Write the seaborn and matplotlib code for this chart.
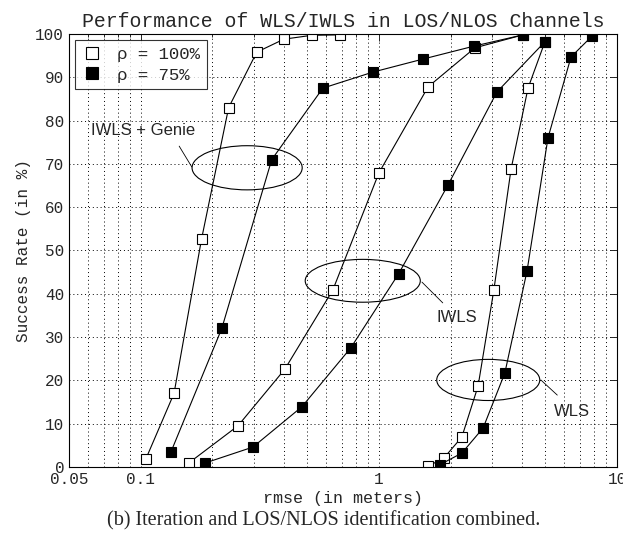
#!/usr/bin/env python3

import numpy as np
import pandas as pd

import matplotlib as mpl
mpl.use('Agg')
import matplotlib.pyplot as plt
from matplotlib.patches import Ellipse
from matplotlib.lines import Line2D
from matplotlib.ticker import LogLocator, FixedLocator, FixedFormatter, NullFormatter
import seaborn as sns

# rmse (m) / success rate (%)
genie_100_x = [0.105, 0.138, 0.180, 0.234, 0.307, 0.399, 0.523, 0.686]
genie_100_y = [1.8, 17, 52.6, 83, 95.8, 98.8, 99.7, 99.8]
genie_75_x = [0.134, 0.219, 0.355, 0.582, 0.944, 1.53, 2.51, 4.03]
genie_75_y = [3.5, 32, 71, 87.5, 91.2, 94.2, 97.2, 99.8]
iwls_100_x = [0.159, 0.256, 0.403, 0.641, 1.0, 1.61, 2.53, 4.03]
iwls_100_y = [0.9, 9.5, 22.6, 40.9, 67.9, 87.8, 96.8, 99.8]
iwls_75_x = [0.186, 0.296, 0.475, 0.762, 1.21, 1.95, 3.13, 4.98]
iwls_75_y = [0.9, 4.6, 13.9, 27.5, 44.6, 65.1, 86.6, 98.2]
wls_100_x = [1.61, 1.87, 2.23, 2.61, 3.04, 3.59, 4.23, 4.98]
wls_100_y = [0.2, 2, 6.9, 18.7, 40.9, 68.8, 87.5, 98.2]
wls_75_x = [1.80, 2.23, 2.74, 3.38, 4.19, 5.13, 6.41, 7.85]
wls_75_y = [0.5, 3.2, 9, 21.7, 45.3, 76, 94.7, 99.5]

rho_labels = ['\u03c1 = 100%', '\u03c1 = 75%']
x_tick_vals = [0.05, 0.1, 1, 10]
x_tick_labels = ['0.05', '0.1', '1', '10']

series = [
    ('IWLS + Genie', '100', genie_100_x, genie_100_y),
    ('IWLS + Genie', '75', genie_75_x, genie_75_y),
    ('IWLS', '100', iwls_100_x, iwls_100_y),
    ('IWLS', '75', iwls_75_x, iwls_75_y),
    ('WLS', '100', wls_100_x, wls_100_y),
    ('WLS', '75', wls_75_x, wls_75_y),
]
frames = []
for method, rho, xs, ys in series:
    frames.append(pd.DataFrame({'rmse': xs, 'rate': ys, 'method': method, 'rho': rho}))
df = pd.concat(frames, ignore_index=True)

sns.set_style('white')
mono = 'Liberation Mono'
plt.rcParams['font.family'] = [mono, 'DejaVu Sans']

fig = plt.figure(figsize=(6.23, 5.37), dpi=100)
ax = fig.add_axes([0.1108, 0.1304, 0.8796, 0.8063])

face = {'100': 'white', '75': 'black'}
# draw filled ones last so they sit on top
for rho in ['100', '75']:
    for method in ['IWLS + Genie', 'IWLS', 'WLS']:
        sub = df[(df['method'] == method) & (df['rho'] == rho)]
        sns.lineplot(data=sub, x='rmse', y='rate', ax=ax, sort=False, estimator=None,
                     color='black', lw=0.8, marker='s', markersize=7,
                     markerfacecolor=face[rho], markeredgecolor='black', markeredgewidth=0.8)

ax.set_xscale('log')
ax.set_xlim(0.05, 10)
ax.set_ylim(0, 100)
ax.xaxis.set_major_locator(FixedLocator(x_tick_vals))
ax.xaxis.set_major_formatter(FixedFormatter(x_tick_labels))
ax.xaxis.set_minor_locator(LogLocator(base=10, subs=np.arange(2, 10)))
ax.xaxis.set_minor_formatter(NullFormatter())
ax.set_yticks(np.arange(0, 101, 10))

ax.grid(True, which='both', axis='x', ls=(0, (1, 3)), color='black', lw=0.7)
ax.grid(True, which='major', axis='y', ls=(0, (1, 3)), color='black', lw=0.7)
ax.tick_params(which='both', direction='in', top=True, right=True, labelsize=11.5, width=0.7)
ax.tick_params(which='major', length=5)
ax.tick_params(which='minor', length=2.5)
for s in ax.spines.values():
    s.set_color('black')
    s.set_linewidth(0.8)

ax.set_title('Performance of WLS/IWLS in LOS/NLOS Channels', fontsize=14.3, pad=5)
ax.set_xlabel('rmse (in meters)', fontsize=12, labelpad=3)
ax.set_ylabel('Success Rate (in %)', fontsize=11.5, labelpad=3)

handles = [Line2D([], [], ls='none', marker='s', ms=8, mfc='white', mec='black', mew=0.8),
           Line2D([], [], ls='none', marker='s', ms=8, mfc='black', mec='black', mew=0.8)]
leg = ax.legend(handles, rho_labels, loc='upper left', fontsize=12.5, frameon=True,
                fancybox=False, edgecolor='black', borderaxespad=0.35,
                handlelength=1.2, handletextpad=0.8, borderpad=0.4, labelspacing=0.3)
leg.get_frame().set_linewidth(0.8)

# ellipses + labels (axes fraction)
ann = [
    ('IWLS + Genie', (0.325, 0.691), 0.201, 0.102, (0.135, 0.776), (0.201, 0.741), (0.224, 0.693)),
    ('IWLS', (0.536, 0.430), 0.210, 0.099, (0.708, 0.346), (0.644, 0.427), (0.682, 0.379)),
    ('WLS', (0.765, 0.201), 0.188, 0.095, (0.918, 0.129), (0.861, 0.201), (0.891, 0.166)),
]
for txt, c, w, h, tpos, p0, p1 in ann:
    ax.add_patch(Ellipse(c, w, h, transform=ax.transAxes, fill=False, ec='black', lw=0.8))
    ax.plot([p0[0], p1[0]], [p0[1], p1[1]], transform=ax.transAxes, color='black', lw=0.6)
    ax.text(tpos[0], tpos[1], txt, transform=ax.transAxes, ha='center', va='center',
            fontsize=12, family='Liberation Sans')

fig.text(0.52, 0.03, '(b) Iteration and LOS/NLOS identification combined.',
         ha='center', va='center', fontsize=14.5, family='Liberation Serif')

fig.savefig('out.png', dpi=100)
